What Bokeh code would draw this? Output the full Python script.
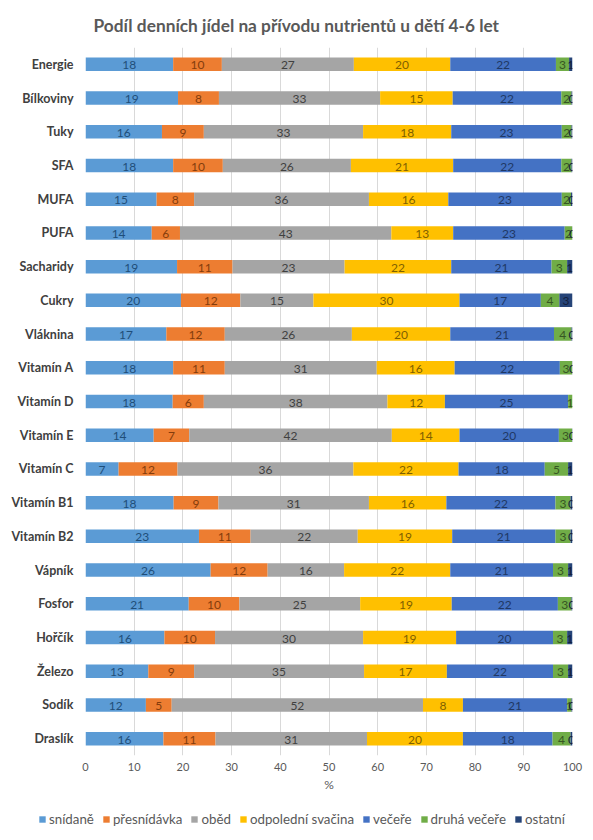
import numpy as np
from bokeh.plotting import figure
from bokeh.layouts import column
from bokeh.models import (ColumnDataSource, FactorRange, Range1d, Legend, LegendItem,
                          FixedTicker, Title)
from bokeh.core.properties import value
from bokeh.embed import file_html
from bokeh.resources import INLINE

title = "Podíl denních jídel na přívodu nutrientů u dětí 4-6 let"
categories = ["Energie", "Bílkoviny", "Tuky", "SFA", "MUFA", "PUFA", "Sacharidy", "Cukry",
              "Vláknina", "Vitamín A", "Vitamín D", "Vitamín E", "Vitamín C", "Vitamín B1",
              "Vitamín B2", "Vápník", "Fosfor", "Hořčík", "Železo", "Sodík", "Draslík"]

series_names = ["snídaně", "přesnídávka", "oběd", "odpolední svačina", "večeře",
                "druhá večeře", "ostatní"]

snidane = [18.0, 19.0, 15.7, 18.0, 14.6, 13.6, 18.8, 19.6, 16.6, 18.0, 17.9, 14.0, 6.8,
           18.1, 23.3, 25.7, 21.2, 16.2, 12.9, 12.4, 16.0]
presnidavka = [10.0, 8.4, 8.6, 10.2, 7.7, 5.8, 11.4, 12.2, 12.0, 10.6, 6.4, 7.3, 12.1,
               9.2, 10.6, 11.7, 10.4, 10.4, 9.4, 5.3, 10.7]
obed = [27.1, 33.1, 32.7, 26.3, 35.9, 43.4, 23.0, 15.0, 26.1, 31.2, 37.7, 41.6, 36.1,
        30.9, 22.0, 15.7, 24.8, 30.4, 34.9, 51.6, 31.1]
svacina = [19.8, 14.9, 18.1, 21.0, 16.3, 12.7, 21.9, 30.0, 20.2, 16.0, 11.8, 13.9, 21.6,
           15.9, 19.4, 21.8, 18.8, 19.1, 17.0, 8.2, 19.7]
vecere = [21.7, 22.3, 22.7, 22.2, 23.3, 22.9, 20.6, 16.7, 21.3, 21.6, 25.3, 20.4, 17.7,
          22.4, 21.2, 21.1, 21.8, 19.9, 21.8, 21.4, 18.4]
druha_vecere = [2.7, 2.1, 2.0, 2.1, 1.9, 1.55, 3.2, 3.8, 3.6, 2.55, 0.9, 2.7, 4.8,
                3.1, 3.1, 3.1, 2.8, 2.9, 3.1, 0.9, 3.7]
ostatni = [0.7, 0.2, 0.2, 0.2, 0.3, 0.05, 1.1, 2.7, 0.2, 0.05, None, 0.1, 0.9,
           0.4, 0.4, 0.9, 0.2, 1.1, 0.9, 0.2, 0.4]

x_ticks = [0, 10, 20, 30, 40, 50, 60, 70, 80, 90, 100]
x_label = "%"

fill_colors = ["#5B9BD5", "#ED7D31", "#A5A5A5", "#FFC000", "#4472C4", "#70AD47", "#264478"]
text_colors = ["#1F4E79", "#843C0C", "#404040", "#7F6000", "#203864", "#375623", "#131F3C"]

series = [snidane, presnidavka, obed, svacina, vecere, druha_vecere, ostatni]

W = 593
H_MAIN = 800
H_LEG = 40

p = figure(width=W, height=H_MAIN, output_backend="svg", toolbar_location=None,
           y_range=FactorRange(*reversed(categories), range_padding=0),
           x_range=Range1d(0, 100), title=None,
           min_border_left=85, min_border_right=21, min_border_top=47, min_border_bottom=45)
p.frame_align = False
p.outline_line_color = None
p.background_fill_color = "white"
p.border_fill_color = "white"

left = np.zeros(len(categories))
for name, vals, fc, tc in zip(series_names, series, fill_colors, text_colors):
    v = np.array([np.nan if a is None else a for a in vals], dtype=float)
    vv = np.nan_to_num(v)
    right = left + vv
    mask = ~np.isnan(v)
    src = ColumnDataSource(dict(y=[c for c, m in zip(categories, mask) if m],
                                left=left[mask], right=right[mask],
                                xc=((left + right) / 2)[mask],
                                txt=[str(int(np.floor(a + 0.5))) for a in v[mask]]))
    p.hbar(y="y", left="left", right="right", height=0.4, source=src,
           fill_color=fc, line_color=None)
    p.text(x="xc", y="y", text="txt", source=src, text_align="center",
           text_baseline="middle", text_color=tc, text_font=value("Lato"),
           text_font_size="12px", y_offset=1)
    left = right

# axes
p.xaxis.ticker = FixedTicker(ticks=x_ticks)
p.xaxis.axis_label = x_label
p.xaxis.axis_line_color = None
p.xaxis.major_tick_line_color = None
p.xaxis.minor_tick_line_color = None
p.xaxis.major_tick_out = 0
p.xaxis.major_label_standoff = 7
p.xaxis.major_label_text_font = "Lato"
p.xaxis.major_label_text_font_size = "11px"
p.xaxis.major_label_text_color = "#595959"
p.xaxis.axis_label_text_font = "Lato"
p.xaxis.axis_label_text_font_style = "normal"
p.xaxis.axis_label_text_font_size = "12px"
p.xaxis.axis_label_text_color = "#595959"
p.xaxis.axis_label_standoff = 3

p.yaxis.axis_line_color = None
p.yaxis.major_tick_line_color = None
p.yaxis.minor_tick_line_color = None
p.yaxis.major_tick_out = 0
p.yaxis.major_label_standoff = 12
p.yaxis.major_label_text_font = "Lato"
p.yaxis.major_label_text_font_style = "bold"
p.yaxis.major_label_text_font_size = "12.5px"
p.yaxis.major_label_text_color = "#404040"

p.xgrid.grid_line_color = "#D9D9D9"
p.ygrid.grid_line_color = None

# title
p.add_layout(Title(text=title, align="left", offset=8, standoff=24,
                   text_font="Lato", text_font_style="bold", text_font_size="17.3px",
                   text_color="#595959"), "above")

# legend strip (separate small figure below the chart)
lg = figure(width=W, height=H_LEG, output_backend="svg", toolbar_location=None,
            x_range=Range1d(0, 1), y_range=Range1d(0, 1),
            x_axis_type=None, y_axis_type=None, title=None,
            min_border_left=0, min_border_right=0, min_border_top=0, min_border_bottom=0)
lg.frame_align = False
lg.outline_line_color = None
lg.xgrid.visible = False
lg.ygrid.visible = False
items = []
for name, fc in zip(series_names, fill_colors):
    # swatch-only renderer, kept outside the visible range of the strip
    r = lg.hbar(y=[-5], left=[0], right=[1], height=0.4, fill_color=fc, line_color=None)
    items.append(LegendItem(label=name, renderers=[r]))
legend = Legend(items=items, orientation="horizontal", location=(38, 13),
                glyph_width=8, glyph_height=8, label_standoff=3, spacing=8,
                padding=0, margin=0, border_line_color=None, background_fill_alpha=0,
                label_text_font="Lato", label_text_font_size="13.3px",
                label_text_color="#595959")
lg.add_layout(legend, "center")

layout = column(p, lg, spacing=0)
open("out.html", "w").write(file_html(layout, INLINE))
